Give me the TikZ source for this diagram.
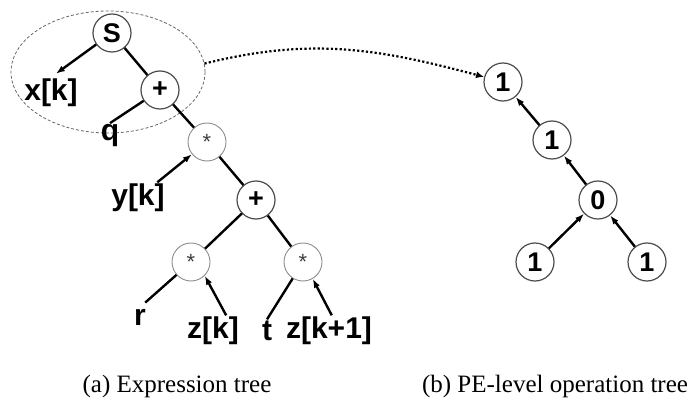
\documentclass[tikz,border=0pt]{standalone}
\usepackage{fontspec}
\setmainfont{Liberation Serif}
\setsansfont{Liberation Sans}
\usetikzlibrary{arrows.meta,shapes.geometric}

\begin{document}
\begin{tikzpicture}[x=1pt, y=-1pt,
  op/.style={draw=black!70, line width=1.2pt, circle, minimum size=38pt, inner sep=0pt, font=\fontsize{27}{27}\selectfont\sffamily\bfseries},
  mul/.style={draw=black!45, line width=0.9pt, circle, minimum size=38pt, inner sep=0pt, text=black!75, font=\fontsize{22}{22}\selectfont\sffamily},
  var/.style={inner sep=1.5pt, font=\fontsize{30}{30}\selectfont\sffamily\bfseries},
  edge/.style={line width=2.4pt},
  ptr/.style={line width=2.4pt, -{Latex[length=9pt,width=6.5pt]}},
  flow/.style={line width=2.2pt, dash pattern=on 2.2pt off 2.2pt, -{Latex[length=8pt,width=7pt]}},
  subcap/.style={anchor=base, font=\fontsize{25}{25}\selectfont}]
  \useasboundingbox (0,0) rectangle (688,401);
  \node[draw=black!60, line width=0.8pt, dash pattern=on 3pt off 2pt, ellipse, minimum width=194pt, minimum height=122pt] (grp) at (108,72) {};
  \node[op] (S) at (112,33) {S};
  \node[op] (plusA) at (160,90) {+};
  \node[mul] (starA) at (207,142) {*};
  \node[op] (plusB) at (256,200) {+};
  \node[mul] (starB) at (191,262) {*};
  \node[mul] (starC) at (303,262) {*};
  \node[var] (xk) at (51,93) {x[k]};
  \node[var] (q) at (110,136) {q};
  \node[var] (yk) at (138,198) {y[k]};
  \node[var] (r) at (140,317) {r};
  \node[var] (zk) at (213,331) {z[k]};
  \node[var] (t) at (267,331) {t};
  \node[var] (zk1) at (329,331) {z[k+1]};
  \draw[ptr, shorten >=6pt] (S) -- (xk.north);
  \draw[edge] (S) -- (plusA);
  \draw[edge] (plusA) -- (q.north);
  \draw[edge] (plusA) -- (starA);
  \draw[ptr] (yk) -- (starA);
  \draw[edge] (starA) -- (plusB);
  \draw[edge] (plusB) -- (starB);
  \draw[edge] (plusB) -- (starC);
  \draw[edge, shorten >=7pt] (starB) -- (r.north);
  \draw[ptr] (zk.50) -- (starB.-45);
  \draw[edge] (starC) -- (t.north);
  \draw[ptr] (zk1.80) -- (starC.-60);
  \node[op] (one1) at (503,82) {1};
  \node[op] (one2) at (552,140) {1};
  \node[op] (zero) at (598,200) {0};
  \node[op] (one3) at (535,262) {1};
  \node[op] (one4) at (647,262) {1};
  \draw[ptr] (one2) -- (one1);
  \draw[ptr] (zero) -- (one2);
  \draw[ptr] (one3) -- (zero);
  \draw[ptr] (one4) -- (zero);
  \draw[flow] (grp.5) to[out=14, in=165] (one1);
  \node[subcap] (capa) at (177,392) {(a) Expression tree};
  \node[subcap] (capb) at (555,392) {(b) PE-level operation tree};
\end{tikzpicture}
\end{document}
